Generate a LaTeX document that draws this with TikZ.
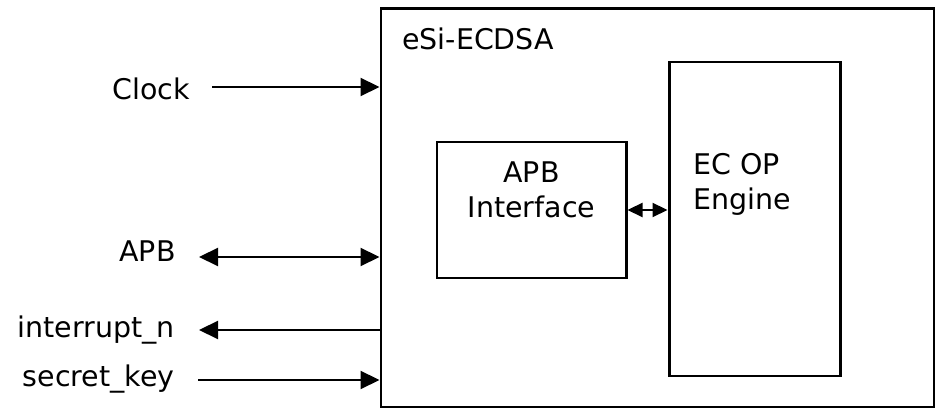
\documentclass[tikz,border=0pt]{standalone}
\usepackage{fontspec}
\setmainfont{DejaVu Sans}
\usepackage{tikz}
\usetikzlibrary{arrows.meta,positioning,calc}

\begin{document}
\begin{tikzpicture}[
  font=\fontsize{16.2}{19.9}\selectfont,
  chipbox/.style={draw, line width=1.7pt, minimum width=11.06cm, minimum height=7.96cm, inner sep=0pt},
  blockbox/.style={draw, line width=1.7pt, inner sep=0pt},
  sigtext/.style={inner sep=0pt, anchor=base east},
  sigline/.style={line width=1.2pt},
  >={Triangle[length=0.38cm, width=0.36cm]}
]
  \useasboundingbox (0,0) rectangle (18.70,-8.18);

  % top block and its inner blocks
  \node[chipbox] (chip) at (13.15,-4.16) {};
  \node[inner sep=0pt, anchor=base west] (chipname) at (8.04,-1.00) {eSi-ECDSA};
  \node[blockbox, minimum width=3.78cm, minimum height=2.72cm] (apbif) at (10.63,-4.20) {};
  \node[inner sep=0pt, align=center] (apbiftext) at (10.63,-3.79) {APB\\Interface};
  \node[blockbox, minimum width=3.42cm, minimum height=6.28cm] (ecop) at (15.09,-4.38) {};
  \node[inner sep=0pt, align=left, anchor=west] (ecoptext) at (13.86,-3.68) {EC OP\\Engine};

  % signal names
  \node[sigtext] (clk) at (3.80,-2.00) {Clock};
  \node[sigtext] (apb) at (3.52,-5.24) {APB};
  \node[sigtext] (irq) at (3.50,-6.76) {interrupt\_n};
  \node[sigtext] (key) at (3.50,-7.74) {secret\_key};

  \coordinate (clkin) at (4.24,-1.74);
  \coordinate (apbio) at (3.98,-5.14);
  \coordinate (irqout) at (3.98,-6.60);
  \coordinate (keyin) at (3.96,-7.60);

  \draw[sigline, ->] (clkin) -- (clkin -| chip.west);
  \draw[sigline, <->] (apbio) -- (apbio -| chip.west);
  \draw[sigline, ->] (irqout -| chip.west) -- (irqout);
  \draw[sigline, ->] (keyin) -- (keyin -| chip.west);

  \draw[sigline, {Triangle[length=0.30cm, width=0.28cm]}-{Triangle[length=0.30cm, width=0.28cm]}]
    (apbif.east) -- (apbif.east -| ecop.west);
\end{tikzpicture}
\end{document}
